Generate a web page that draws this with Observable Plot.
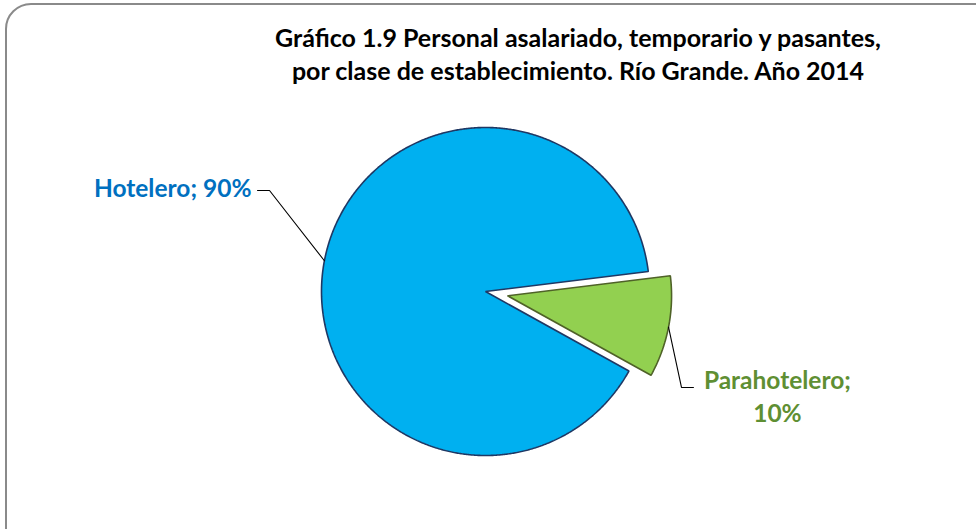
<!DOCTYPE html>
<html><head><meta charset="utf-8">
<script src="https://cdn.jsdelivr.net/npm/d3@7"></script>
<script src="https://cdn.jsdelivr.net/npm/@observablehq/plot@0.6"></script>
<style>
body{margin:0;background:#fff;}
#wrap{position:relative;width:976px;height:529px;overflow:hidden;background:#fff;font-family:Lato,sans-serif;}
#frame{position:absolute;left:5px;top:3px;width:1100px;height:700px;border:2px solid #8a8a8a;border-radius:26px;box-sizing:border-box;}
#title{position:absolute;left:128px;width:900px;top:21px;text-align:center;font-weight:700;font-size:25px;line-height:33px;color:#000;}
#chart{position:absolute;left:0;top:0;}
</style></head><body>
<div id="wrap"><div id="frame"></div><div id="title">Gráfico 1.9 Personal asalariado, temporario y pasantes,<br>por clase de establecimiento. Río Grande. Año 2014</div><div id="chart"></div></div>
<script>
// ---- data ----
const categories = ["Hotelero", "Parahotelero"];
const values = [90, 10];
const labelTexts = ["Hotelero; 90%", "Parahotelero;\n10%"];

// ---- styling / layout ----
const fillColors = ["#00B0F0", "#92D050"];
const strokeColors = ["#1F3864", "#4F6228"];
const labelColors = ["#0070C0", "#5F8F33"];
const explode = [0, 0.137];
const R = 164, CX = 485, CY = 291, W = 976, H = 529;
const deg = Math.PI / 180;

const rows = categories.map((c, i) => ({cat: c, value: values[i]}));
const arcs = d3.pie().sort(null).value(d => d.value)
  .startAngle(119 * deg).endAngle(479 * deg)(rows);

const points = [];
const centers = {};
arcs.forEach((a, i) => {
  const mid = (a.startAngle + a.endAngle) / 2;
  const ox = explode[i] * Math.sin(mid), oy = explode[i] * Math.cos(mid);
  centers[a.data.cat] = [ox, oy];
  points.push({cat: a.data.cat, x: ox, y: oy});
  const n = Math.max(2, Math.ceil((a.endAngle - a.startAngle) / (0.4 * deg)));
  for (let k = 0; k <= n; k++) {
    const t = a.startAngle + (a.endAngle - a.startAngle) * k / n;
    points.push({cat: a.data.cat, x: ox + Math.sin(t), y: oy + Math.cos(t)});
  }
});

// leader lines (anchor angle on rim, elbow, end) in radius units
const rimPoint = (cat, angDeg) => {
  const [ox, oy] = centers[cat];
  return [ox + Math.sin(angDeg * deg), oy + Math.cos(angDeg * deg)];
};
const leaders = [
  [rimPoint("Hotelero", 280.8), [-1.317, 0.616], [-1.390, 0.616]],
  [rimPoint("Parahotelero", 101), [1.195, -0.585], [1.268, -0.585]]
].flatMap((pts, i) => pts.map(p => ({cat: categories[i], x: p[0], y: p[1]})));

const labels = [
  {cat: "Hotelero", text: labelTexts[0], x: -1.427, y: 0.640, anchor: "end"},
  {cat: "Parahotelero", text: labelTexts[1], x: 1.780, y: -0.628, anchor: "middle"}
];

const plot = Plot.plot({
  width: W, height: H,
  marginTop: 0, marginRight: 0, marginBottom: 0, marginLeft: 0,
  x: {domain: [-CX / R, (W - CX) / R], range: [0, W], axis: null},
  y: {domain: [-(H - CY) / R, CY / R], range: [H, 0], axis: null},
  color: {domain: categories, range: fillColors},
  style: {fontFamily: "Lato, sans-serif", background: "transparent"},
  marks: [
    ...categories.map((c, i) => Plot.line(points.filter(p => p.cat === c), {
      x: "x", y: "y", z: "cat", fill: "cat", stroke: strokeColors[i], strokeWidth: 1.6, curve: "linear-closed", strokeLinejoin: "miter"
    })),
    Plot.line(leaders, {x: "x", y: "y", z: "cat", stroke: "#000", strokeWidth: 1.1}),
    ...labels.map((l, i) => Plot.text([l], {
      x: "x", y: "y", text: "text", textAnchor: l.anchor, fill: labelColors[i],
      fontSize: 24.5, fontWeight: 700, lineHeight: 1.36
    }))
  ]
});
document.getElementById("chart").appendChild(plot);
</script>
</body></html>
